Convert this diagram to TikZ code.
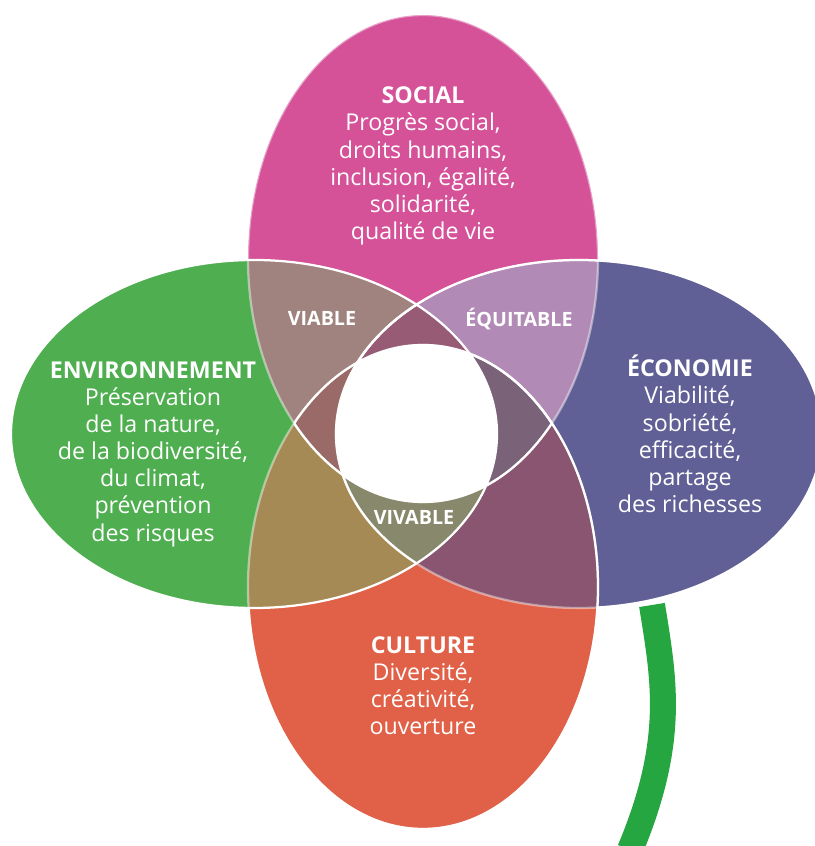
\documentclass[tikz,border=0pt]{standalone}
\usepackage{fontspec}
\setmainfont{Open Sans}
\usepackage{tikz}
\definecolor{social}{HTML}{D55299}
\definecolor{economie}{HTML}{606096}
\definecolor{culture}{HTML}{E06148}
\definecolor{environ}{HTML}{4FAE50}
\definecolor{viable}{HTML}{A0837E}
\definecolor{equitable}{HTML}{B18AB6}
\definecolor{envcult}{HTML}{A68A55}
\definecolor{ecocult}{HTML}{895570}
\definecolor{triplehaut}{HTML}{975B76}
\definecolor{triplegauche}{HTML}{9A6A68}
\definecolor{tripledroite}{HTML}{7A6279}
\definecolor{vivable}{HTML}{88886C}
\definecolor{tige}{HTML}{26A641}
\tikzset{contour/.style={
    draw=white,
    line width=1.6pt},
  contourpale/.style={
    draw=white, draw opacity=0.45,
    line width=1.6pt},
  pilier/.style={
    text=white, align=center,
    font=\fontsize{16.5}{19.3}\selectfont},
  qualite/.style={
    text=white,
    font=\bfseries\fontsize{14}{16}\selectfont},
  tigestyle/.style={
    draw=tige, line width=0.65cm}}
\newcommand{\ellS}{(cS) ellipse [x radius=175, y radius=243.5]}
\newcommand{\ellE}{(cE) ellipse [x radius=243, y radius=174]}
\newcommand{\ellC}{(cC) ellipse [x radius=175, y radius=242]}
\newcommand{\ellN}{(cN) ellipse [x radius=243, y radius=174]}

\begin{document}
\begin{tikzpicture}[x=0.025cm,y=0.025cm]
\useasboundingbox (0,0) rectangle (814,846);
\coordinate (cS) at (423,587.5);
\coordinate (cE) at (579,412);
\coordinate (cC) at (423,259);
\coordinate (cN) at (254,412);
\coordinate (tigehaut) at (652,241);
\coordinate (tigebas) at (630,-4);

% la tige
\path[tigestyle] (tigehaut) .. controls (664,166) and (676,106) .. (tigebas);

% les quatre piliers
\fill[social] \ellS;
\fill[economie] \ellE;
\fill[culture] \ellC;
\fill[environ] \ellN;

% deux a deux
\begin{scope}\clip \ellS; \fill[viable] \ellN; \end{scope}
\begin{scope}\clip \ellS; \fill[equitable] \ellE; \end{scope}
\begin{scope}\clip \ellC; \fill[envcult] \ellN; \end{scope}
\begin{scope}\clip \ellC; \fill[ecocult] \ellE; \end{scope}

% trois a trois
\begin{scope}\clip \ellS; \clip \ellN; \fill[triplehaut] \ellE; \end{scope}
\begin{scope}\clip \ellS; \clip \ellN; \fill[triplegauche] \ellC; \end{scope}
\begin{scope}\clip \ellS; \clip \ellE; \fill[tripledroite] \ellC; \end{scope}
\begin{scope}\clip \ellN; \clip \ellE; \fill[vivable] \ellC; \end{scope}

% le coeur
\begin{scope}\clip \ellS; \clip \ellN; \clip \ellE; \fill[white] \ellC; \end{scope}

% traits
\path[contourpale] \ellS;
\path[contourpale] \ellE;
\path[contourpale] \ellC;
\begin{scope}\clip \ellC; \path[contour] \ellS; \end{scope}
\begin{scope}\clip \ellN; \path[contour] \ellE; \end{scope}
\begin{scope}[even odd rule]\clip (-20,-20) rectangle (840,870) \ellC; \path[contour] \ellE; \end{scope}
\begin{scope}\clip \ellS; \path[contour] \ellC; \end{scope}
\begin{scope}[even odd rule]\clip (-20,-20) rectangle (840,870) \ellN; \path[contour] \ellC; \end{scope}
\path[contour] \ellN;

% textes
\node[pilier] (social) at (423,680) {\textbf{SOCIAL}\\Progrès social,\\droits humains,\\inclusion, égalité,\\solidarité,\\qualité de vie};
\node[pilier] (environnement) at (153,392) {\textbf{ENVIRONNEMENT}\\Préservation\\de la nature,\\de la biodiversité,\\du climat,\\prévention\\des risques};
\node[pilier] (economie) at (690,412) {\textbf{ÉCONOMIE}\\Viabilité,\\sobriété,\\efficacité,\\partage\\des richesses};
\node[pilier] (culture) at (423,160) {\textbf{CULTURE}\\Diversité,\\créativité,\\ouverture};
\node[qualite] (viable) at (322,528) {VIABLE};
\node[qualite] (equitable) at (519,527) {ÉQUITABLE};
\node[qualite] (vivable) at (414,329) {VIVABLE};
\end{tikzpicture}
\end{document}
